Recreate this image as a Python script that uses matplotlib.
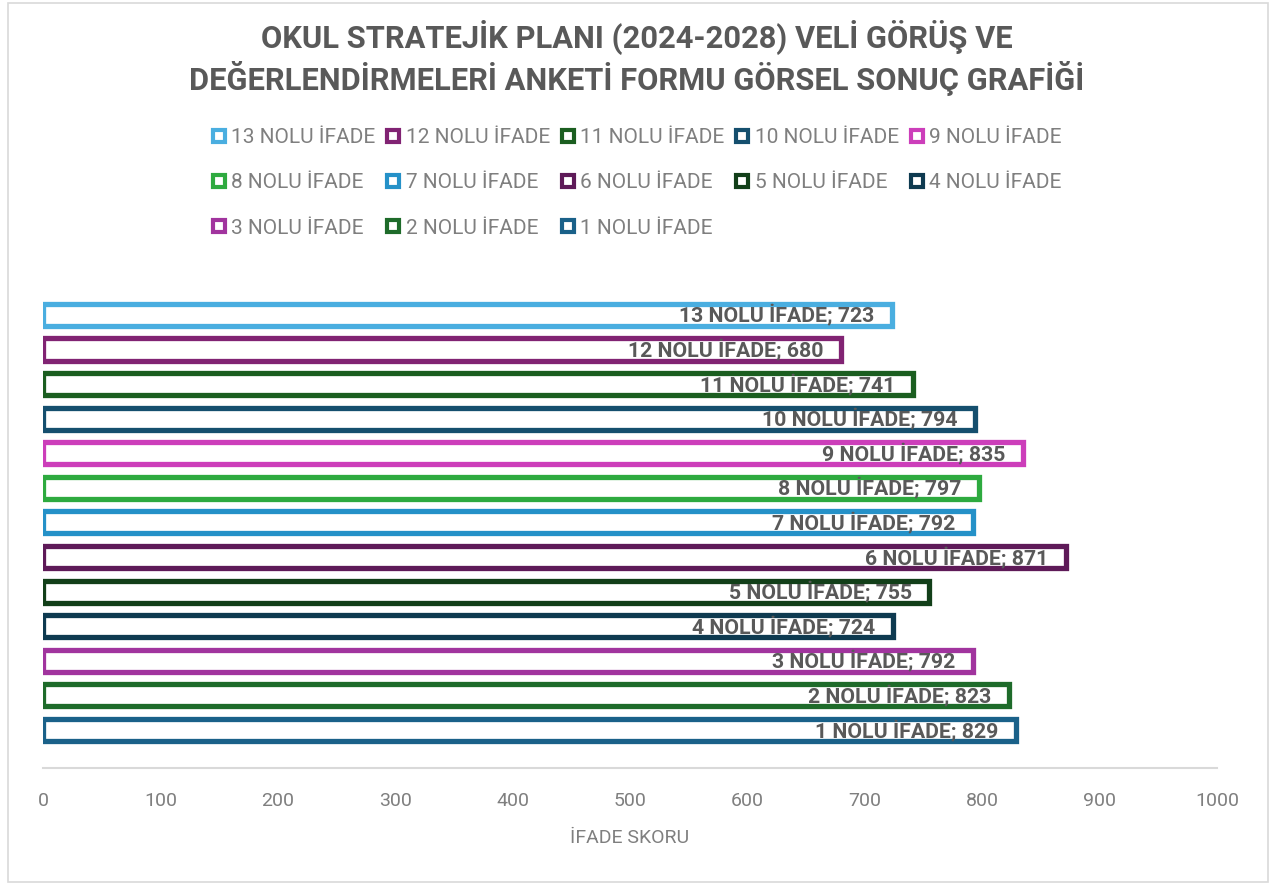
import matplotlib.pyplot as plt
from matplotlib.patches import Rectangle
from matplotlib.lines import Line2D

# Veriler
ifadeler = ['1 NOLU İFADE', '2 NOLU İFADE', '3 NOLU İFADE', '4 NOLU İFADE', '5 NOLU İFADE',
            '6 NOLU İFADE', '7 NOLU İFADE', '8 NOLU İFADE', '9 NOLU İFADE', '10 NOLU İFADE',
            '11 NOLU İFADE', '12 NOLU İFADE', '13 NOLU İFADE']
skorlar = [829, 823, 792, 724, 755, 871, 792, 797, 835, 794, 741, 680, 723]
renkler = ['#1a6189', '#1e6b2a', '#a1349e', '#0e3a50', '#123f19', '#5e1a58', '#2591c8',
           '#2eaa3f', '#cc3eba', '#154f6e', '#1b5e20', '#812373', '#4aaee0']
x_ticks = [0, 100, 200, 300, 400, 500, 600, 700, 800, 900, 1000]

baslik = 'OKUL STRATEJİK PLANI (2024-2028) VELİ GÖRÜŞ VE\nDEĞERLENDİRMELERİ ANKETİ FORMU GÖRSEL SONUÇ GRAFİĞİ'

plt.rcParams['font.family'] = ['Roboto', 'DejaVu Sans']

W, H = 1276, 883
fig = plt.figure(figsize=(W / 100, H / 100), dpi=100)

# Grafik çerçevesi
fig.patches.append(Rectangle((8 / W, 1 / H), 1260 / W, 879 / H, transform=fig.transFigure,
                             facecolor='none', edgecolor='#d9d9d9', linewidth=1.2))

ax = fig.add_axes([43 / W, 1 - 768 / H, 1174 / W, 478 / H])

handles = []
for i, (ad, skor, renk) in enumerate(zip(ifadeler, skorlar, renkler)):
    ax.barh(i, skor, height=0.64, color='white', edgecolor=renk, linewidth=3.8)
    ax.text(skor - 15, i, f'{ad}; {skor}', ha='right', va='center',
            fontsize=15.3, fontweight='bold', color='#595959')
    handles.append(Line2D([], [], marker='s', linestyle='none', markersize=9,
                          markerfacecolor='white', markeredgecolor=renk,
                          markeredgewidth=3, label=ad))

ax.set_xlim(0, 1000)
ax.set_ylim(-1.1, 12.72)
ax.set_xticks(x_ticks)
ax.set_yticks([])
ax.tick_params(axis='x', length=0, pad=17, labelsize=14, labelcolor='#7f7f7f')
for s in ['top', 'right', 'left']:
    ax.spines[s].set_visible(False)
ax.spines['bottom'].set_color('#d9d9d9')
ax.spines['bottom'].set_linewidth(1.5)
ax.set_xlabel('İFADE SKORU', fontsize=14, color='#7f7f7f', labelpad=14)

# Lejant sırası: 13..9 / 8..4 / 3..1 (satır bazında)
sira = [13, 8, 3, 12, 7, 2, 11, 6, 1, 10, 5, 9, 4]
leg_handles = [handles[n - 1] for n in sira]
fig.legend(handles=leg_handles, ncol=5, loc='center', bbox_to_anchor=(636 / W, 1 - 183 / H),
           frameon=False, fontsize=15, labelcolor='#7f7f7f', handlelength=0.8,
           handletextpad=0.2, columnspacing=0.45, labelspacing=1.26, borderaxespad=0)

fig.text(637 / W, 1 - 58 / H, baslik, ha='center', va='center', fontsize=22.2,
         fontweight='bold', color='#595959', linespacing=1.22)

plt.savefig('out.png', dpi=100)
plt.close()
